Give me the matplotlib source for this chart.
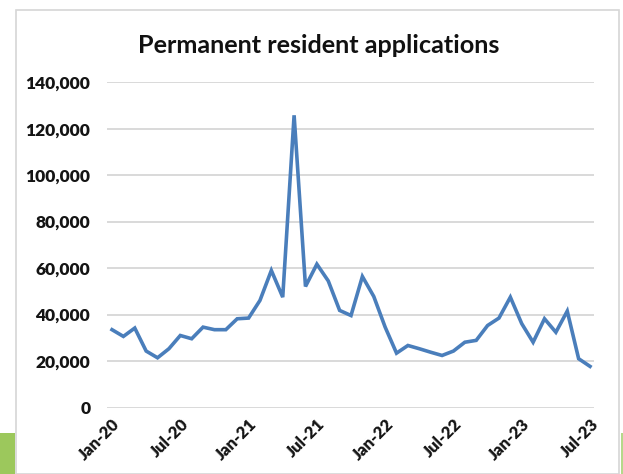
import matplotlib
matplotlib.use("Agg")
import matplotlib.pyplot as plt
from matplotlib.patches import Rectangle
from matplotlib.ticker import FuncFormatter

# Monthly permanent resident applications, Jan 2020 - Jul 2023
months = [
    "Jan-20", "Feb-20", "Mar-20", "Apr-20", "May-20", "Jun-20",
    "Jul-20", "Aug-20", "Sep-20", "Oct-20", "Nov-20", "Dec-20",
    "Jan-21", "Feb-21", "Mar-21", "Apr-21", "May-21", "Jun-21",
    "Jul-21", "Aug-21", "Sep-21", "Oct-21", "Nov-21", "Dec-21",
    "Jan-22", "Feb-22", "Mar-22", "Apr-22", "May-22", "Jun-22",
    "Jul-22", "Aug-22", "Sep-22", "Oct-22", "Nov-22", "Dec-22",
    "Jan-23", "Feb-23", "Mar-23", "Apr-23", "May-23", "Jun-23",
    "Jul-23",
]
applications = [
    33500, 30600, 34200, 24300, 21400, 25300,
    31000, 29600, 34600, 33500, 33500, 38200,
    38500, 46100, 59000, 47500, 125800, 52100,
    61700, 54500, 41800, 39600, 56400, 47800,
    34600, 23400, 26700, 25300, 23800, 22400,
    24300, 28100, 28900, 35300, 38500, 47500,
    36100, 28100, 38200, 32400, 41500, 21000,
    17700,
]
y_ticks = [0, 20000, 40000, 60000, 80000, 100000, 120000, 140000]
x_tick_labels = ["Jan-20", "Jul-20", "Jan-21", "Jul-21",
                 "Jan-22", "Jul-22", "Jan-23", "Jul-23"]

W, H = 623, 474
fig = plt.figure(figsize=(W / 100, H / 100), dpi=100)
fig.patch.set_facecolor("white")

# card frame and green accents
fig.add_artist(Rectangle((16 / W, 0), (619 - 16) / W, (H - 10) / H,
                         transform=fig.transFigure, facecolor="white",
                         edgecolor="#d6d6d6", linewidth=1.2, zorder=0))
fig.add_artist(Rectangle((0, 0), 15 / W, (H - 433) / H,
                         transform=fig.transFigure, facecolor="#9cc85c",
                         edgecolor="none", zorder=1))
fig.add_artist(Rectangle((620.5 / W, 0), 2.5 / W, (H - 433) / H,
                         transform=fig.transFigure, facecolor="#b5d88a",
                         edgecolor="none", zorder=1))

left, right = 107, 594
bottom, top = 407.5, 82.3
ax = fig.add_axes([left / W, (H - bottom) / H, (right - left) / W, (bottom - top) / H])
ax.set_facecolor("none")

x = list(range(len(months)))
ax.plot(x, applications, color="#4a7ebb", linewidth=2.6, solid_joinstyle="miter",
        zorder=3, clip_on=False)

ax.set_ylim(0, 140000)
ax.set_xlim(-0.44, len(months) - 1 + 0.35)
ax.set_yticks(y_ticks)
ax.yaxis.set_major_formatter(FuncFormatter(lambda v, p: f"{int(v):,}"))
ax.grid(axis="y", color="#d9d9d9", linewidth=1.4, zorder=1)
ax.set_axisbelow(True)

tick_pos = [months.index(m) for m in x_tick_labels]
ax.set_xticks(tick_pos)
ax.set_xticklabels(x_tick_labels, rotation=45, ha="right", va="top",
                   rotation_mode="anchor")

for s in ax.spines.values():
    s.set_visible(False)
ax.tick_params(axis="both", length=0)
ax.tick_params(axis="y", pad=12)
ax.tick_params(axis="x", pad=6)

font = ["Lato", "DejaVu Sans"]
for lab in ax.get_yticklabels():
    lab.set_fontfamily(font)
    lab.set_fontweight("heavy")
    lab.set_fontsize(12.5)
    lab.set_color("#141414")
for lab in ax.get_xticklabels():
    lab.set_fontfamily(font)
    lab.set_fontweight("heavy")
    lab.set_fontsize(12)
    lab.set_color("#141414")

fig.text(319 / W, 1 - 45 / H, "Permanent resident applications",
         ha="center", va="center", fontsize=18.2, fontweight="bold",
         family=font, color="#111111")

fig.savefig("out.png", dpi=100, facecolor="white")
